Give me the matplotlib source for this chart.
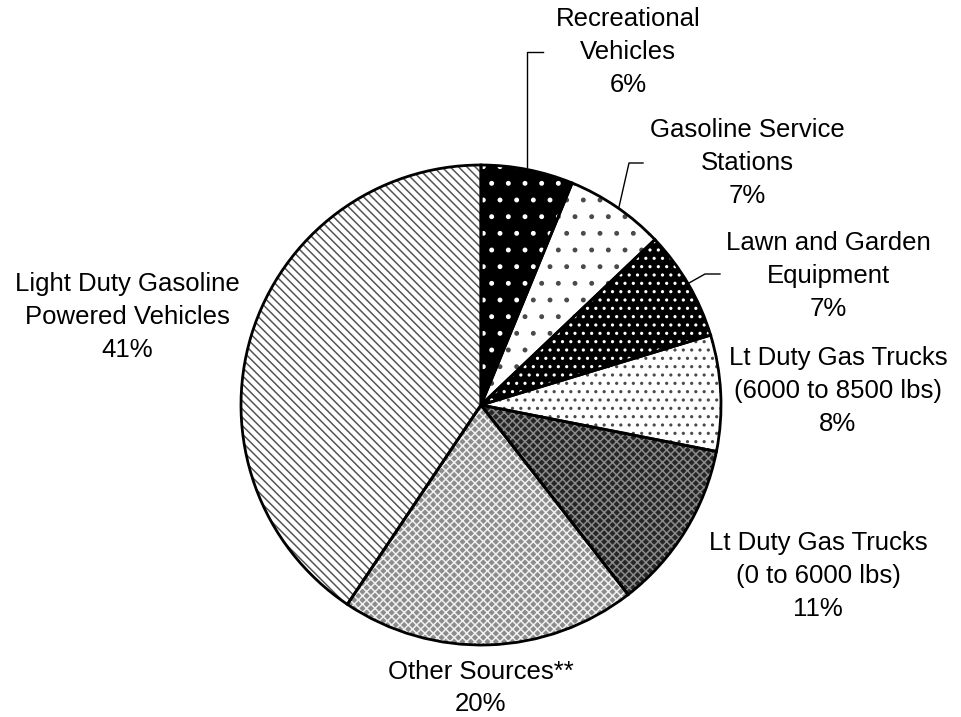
import matplotlib
matplotlib.use("Agg")
import matplotlib.pyplot as plt

plt.rcParams['font.family'] = ['Liberation Sans', 'DejaVu Sans']
plt.rcParams['hatch.linewidth'] = 1.1

# slices, clockwise from 12 o'clock
names = ["Recreational\nVehicles",
         "Gasoline Service\nStations",
         "Lawn and Garden\nEquipment",
         "Lt Duty Gas Trucks\n(6000 to 8500 lbs)",
         "Lt Duty Gas Trucks\n(0 to 6000 lbs)",
         "Other Sources**",
         "Light Duty Gasoline\nPowered Vehicles"]
values = [6.2, 6.7, 7.4, 7.8, 11.4, 19.9, 40.6]

# fill patterns (face colour, hatch, hatch colour)
faces = ["black", "white", "black", "white", "#262626", "#8c8c8c", "white"]
hatches = [".", ".", "..", "..", "xxxx", "xxxx", "\\\\\\\\"]
hatch_cols = ["white", "#4a4a4a", "white", "#4a4a4a", "#8a8a8a", "#f0f0f0", "#555555"]

# label centres (pixels, from top-left) and leader lines
label_xy = [(628, 52), (747, 163), (828, 276), (838, 391),
            (818, 576), (481, 688), (127, 317)]
leaders = [[(527, 167), (527, 52), (543, 52)],
           [(619, 207), (629, 163), (643, 163)],
           [(689, 283), (705, 274), (720, 274)]]

W, H = 962, 717
fig = plt.figure(figsize=(W / 100, H / 100), dpi=100)
ax = fig.add_axes([0, 0, 1, 1])

cx, cy, r = 481, H - 405, 240

wedges, _ = ax.pie(values, startangle=90, counterclock=False,
                   center=(cx, cy), radius=r, frame=True)
for w, fc, h, hc in zip(wedges, faces, hatches, hatch_cols):
    w.set_facecolor(fc)
    w.set_hatch(h)
    w.set_edgecolor(hc)
    w.set_linewidth(0)

# outlines on top
ax.pie(values, startangle=90, counterclock=False,
       center=(cx, cy), radius=r, frame=True,
       wedgeprops=dict(fill=False, edgecolor='black', linewidth=2))
ax.set_xlim(0, W)
ax.set_ylim(0, H)
ax.set_aspect('equal')
ax.axis('off')

total = sum(values)
for name, v, (x, y) in zip(names, values, label_xy):
    ax.text(x, H - y, f"{name}\n{round(v / total * 100)}%", ha='center', va='center',
            fontsize=18.5, linespacing=1.45)

for pts in leaders:
    xs = [p[0] for p in pts]
    ys = [H - p[1] for p in pts]
    ax.plot(xs, ys, color='black', linewidth=1)

fig.savefig("out.png", dpi=100)
